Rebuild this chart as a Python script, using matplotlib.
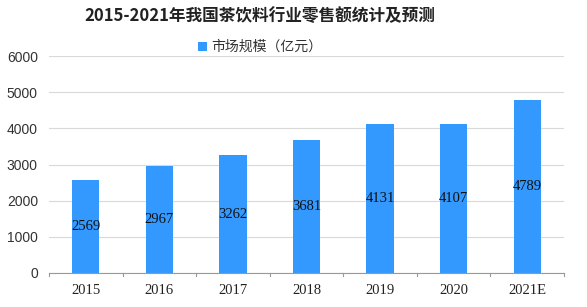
import matplotlib.pyplot as plt
import numpy as np

plt.rcParams['font.family'] = ['Liberation Sans', 'Noto Sans CJK SC', 'DejaVu Sans']

# data
years = ['2015', '2016', '2017', '2018', '2019', '2020', '2021E']
sales = [2569, 2967, 3262, 3681, 4131, 4107, 4789]

bar_color = '#3399ff'

fig = plt.figure(figsize=(5.87, 3.07), dpi=100)
ax = fig.add_axes([49 / 587, (307 - 273) / 307, (564 - 49) / 587, (273 - 56) / 307])

x = np.arange(len(years))
bars = ax.bar(x, sales, width=0.37, color=bar_color, zorder=2, label='市场规模（亿元）')

# value labels in the middle of each bar
for xi, v in zip(x, sales):
    ax.text(xi, v / 2, str(v), ha='center', va='center', fontsize=10.5,
            family=['Liberation Serif', 'DejaVu Serif'], color='#111111', zorder=3)

ax.set_xlim(-0.5, len(years) - 0.5)
ax.set_ylim(0, 6000)
ax.set_yticks(range(0, 6001, 1000))
ax.tick_params(axis='y', length=0, labelsize=10, colors='#333333', pad=8)
ax.grid(axis='y', color='#d9d9d9', linewidth=0.8, zorder=0)

ax.set_xticks(x)
ax.set_xticklabels(years, family=['Liberation Serif', 'DejaVu Serif'], fontsize=10.5, color='#222222')
ax.tick_params(axis='x', length=0, pad=8)
# boundary ticks between categories
for b in np.arange(-0.5, len(years), 1.0):
    ax.plot([b, b], [0, -80], color='#999999', linewidth=0.8, clip_on=False)

for s in ['top', 'right', 'left']:
    ax.spines[s].set_visible(False)
ax.spines['bottom'].set_color('#999999')

fig.text(260 / 587, 1 - 16 / 307, '2015-2021年我国茶饮料行业零售额统计及预测', ha='center', va='center',
         fontsize=12, fontweight='bold', family=['Noto Sans CJK SC', 'DejaVu Sans'], color='#222222')

leg = fig.legend(loc='center', bbox_to_anchor=(260 / 587, 1 - 47 / 307), frameon=False, fontsize=10,
                 handlelength=0.6, handleheight=0.6, handletextpad=0.3, borderaxespad=0)
for t in leg.get_texts():
    t.set_family(['Noto Sans CJK SC', 'DejaVu Sans'])
    t.set_color('#333333')

fig.savefig('out.png', dpi=100)
